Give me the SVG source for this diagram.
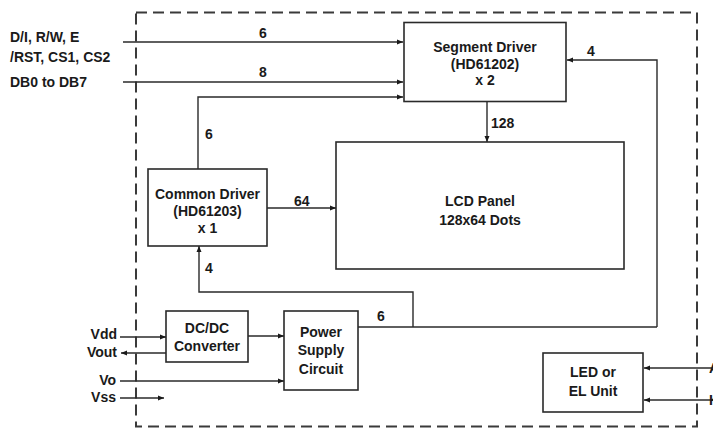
<svg xmlns="http://www.w3.org/2000/svg" width="713" height="430" viewBox="0 0 713 430">
<style>
text{font-family:"Liberation Sans",Arial,sans-serif;font-size:14px;font-weight:bold;fill:#1a1a1a}
.c{text-anchor:middle}
.r{text-anchor:end}
.box{fill:#fff;stroke:#2a2a2a;stroke-width:1.6}
.ln{fill:none;stroke:#2a2a2a;stroke-width:1.4}
.arr{marker-end:url(#ah)}
.border{fill:none;stroke:#3a3a3a;stroke-width:2;stroke-dasharray:11 6}
</style>
<defs>
<marker id="ah" viewBox="0 0 6 6" refX="6" refY="3" markerWidth="6" markerHeight="6" markerUnits="userSpaceOnUse" orient="auto">
<path d="M0,0.5 L6,3 L0,5.5 Z" fill="#1a1a1a"/>
</marker>
</defs>
<rect width="713" height="430" fill="#fff"/>
<rect id="border" class="border" x="136" y="12.5" width="561" height="414"/>

<g id="connectors">
<path class="ln arr" d="M123,42 H403"/>
<path class="ln arr" d="M123,82 H403"/>
<path class="ln arr" d="M198,169 V97 H403"/>
<path class="ln arr" d="M657,327 V60 H567"/>
<path class="ln arr" d="M487,102 V142"/>
<path class="ln arr" d="M267,208 H336"/>
<path class="ln arr" d="M413,327 V292 H199 V246"/>
<path class="ln" d="M358,327 H657"/>
<path class="ln arr" d="M120,337 H166"/>
<path class="ln arr" d="M166,353 H121"/>
<path class="ln arr" d="M120,381 H284"/>
<path class="ln arr" d="M120,398 H164"/>
<path class="ln arr" d="M248,336 H284"/>
<path class="ln arr" d="M713,368 H644"/>
<path class="ln arr" d="M713,400 H644"/>
<text x="263" y="38" class="c">6</text>
<text x="263" y="77" class="c">8</text>
<text x="587" y="56">4</text>
<text x="491" y="128">128</text>
<text x="205" y="139">6</text>
<text x="294" y="206">64</text>
<text x="205" y="273">4</text>
<text x="377" y="321">6</text>
</g>

<g id="labels-left">
<text x="10" y="42">D/I, R/W, E</text>
<text x="10" y="62">/RST, CS1, CS2</text>
<text x="10" y="87">DB0 to DB7</text>
<text x="117" y="339" class="r">Vdd</text>
<text x="117" y="357" class="r">Vout</text>
<text x="116" y="385" class="r">Vo</text>
<text x="116" y="402" class="r">Vss</text>
</g>

<g id="labels-right">
<text x="709" y="373">A</text>
<text x="709" y="405">K</text>
</g>

<g id="segment-driver">
<rect class="box" x="404" y="22.5" width="162" height="79"/>
<text x="485" y="52" class="c">Segment Driver</text>
<text x="485" y="69" class="c">(HD61202)</text>
<text x="485" y="85" class="c">x 2</text>
</g>

<g id="lcd-panel">
<rect class="box" x="336" y="142" width="288" height="127"/>
<text x="480" y="206" class="c">LCD Panel</text>
<text x="480" y="225" class="c">128x64 Dots</text>
</g>

<g id="common-driver">
<rect class="box" x="148" y="169" width="119" height="77"/>
<text x="207.5" y="199" class="c">Common Driver</text>
<text x="207.5" y="216" class="c">(HD61203)</text>
<text x="207.5" y="233" class="c">x 1</text>
</g>

<g id="dcdc-converter">
<rect class="box" x="166" y="311" width="82" height="51"/>
<text x="207" y="333" class="c">DC/DC</text>
<text x="207" y="351" class="c">Converter</text>
</g>

<g id="power-supply">
<rect class="box" x="284" y="311" width="74" height="79"/>
<text x="321" y="337" class="c">Power</text>
<text x="321" y="355" class="c">Supply</text>
<text x="321" y="374" class="c">Circuit</text>
</g>

<g id="led-unit">
<rect class="box" x="543" y="353" width="100" height="59"/>
<text x="593" y="377" class="c">LED or</text>
<text x="593" y="396" class="c">EL Unit</text>
</g>
</svg>
